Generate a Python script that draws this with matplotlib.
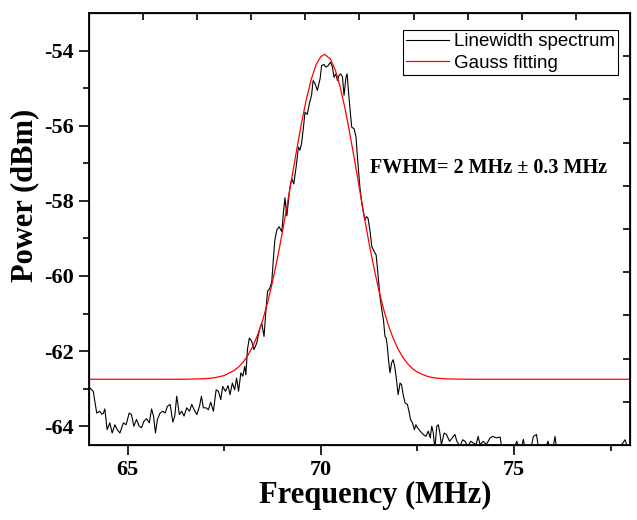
import numpy as np
import matplotlib
matplotlib.use("Agg")
import matplotlib.pyplot as plt

plt.rcParams["axes.unicode_minus"] = False

freq = [64.00, 64.06, 64.11, 64.16, 64.20, 64.28, 64.33, 64.37, 64.41, 64.47,
        64.54, 64.60, 64.67, 64.73, 64.80, 64.89, 64.96, 65.04, 65.10, 65.16,
        65.23, 65.30, 65.36, 65.42, 65.49, 65.56, 65.62, 65.67, 65.72, 65.77,
        65.84, 65.91, 65.97, 66.03, 66.10, 66.17, 66.22, 66.27, 66.34, 66.40,
        66.46, 66.53, 66.60, 66.66, 66.72, 66.79, 66.86, 66.91, 66.96, 67.03,
        67.09, 67.15, 67.22, 67.29, 67.35, 67.41, 67.46, 67.53, 67.60, 67.65,
        67.71, 67.77, 67.82, 67.87, 67.93, 67.98, 68.03, 68.06, 68.10, 68.15,
        68.21, 68.27, 68.34, 68.41, 68.47, 68.53, 68.58, 68.62, 68.68, 68.73,
        68.77, 68.81, 68.86, 68.92, 68.99, 69.03, 69.07, 69.12, 69.20, 69.25,
        69.30, 69.36, 69.42, 69.46, 69.50, 69.55, 69.59, 69.65, 69.70, 69.76,
        69.80, 69.85, 69.91, 69.98, 70.02, 70.08, 70.13, 70.19, 70.25, 70.30,
        70.34, 70.39, 70.43, 70.47, 70.51, 70.56, 70.60, 70.65, 70.68, 70.72,
        70.77, 70.80, 70.86, 70.91, 70.94, 70.98, 71.01, 71.06, 71.10, 71.14,
        71.18, 71.22, 71.27, 71.32, 71.38, 71.43, 71.46, 71.49, 71.53, 71.57,
        71.62, 71.66, 71.69, 71.72, 71.75, 71.79, 71.83, 71.87, 71.91, 71.95,
        72.00, 72.05, 72.09, 72.13, 72.18, 72.24, 72.29, 72.32, 72.37, 72.42,
        72.46, 72.50, 72.57, 72.65, 72.72, 72.78, 72.83, 72.87, 72.91, 72.95,
        73.00, 73.04, 73.08, 73.12, 73.19, 73.25, 73.33, 73.40, 73.47, 73.52,
        73.60, 73.67, 73.73, 73.80, 73.88, 73.95, 74.02, 74.07, 74.12, 74.20,
        74.28, 74.38, 74.45, 74.54, 74.64, 74.68, 74.75, 74.85, 74.95, 75.02,
        75.07, 75.12, 75.18, 75.24, 75.28, 75.35, 75.43, 75.50, 75.58, 75.63,
        75.72, 75.80, 75.88, 75.92, 76.00, 76.06, 76.10, 76.20, 76.30, 76.45,
        76.55, 76.70, 76.85, 76.97, 77.10, 77.25, 77.40, 77.55, 77.70, 77.87,
        77.95, 78.00]
power = [-62.95, -63.02, -63.07, -63.40, -63.65, -63.60, -63.68, -63.66, -63.54, -64.09,
         -63.91, -64.18, -63.96, -64.09, -64.18, -63.91, -63.96, -63.65, -63.69, -64.00,
         -63.82, -64.00, -64.04, -63.87, -63.80, -63.91, -63.54, -63.73, -64.18, -63.82,
         -63.65, -63.60, -63.65, -63.47, -63.42, -63.89, -63.73, -63.20, -63.69, -63.60,
         -63.73, -63.51, -63.60, -63.42, -63.56, -63.69, -63.47, -63.20, -63.51, -63.51,
         -63.56, -63.36, -63.60, -63.03, -63.07, -63.29, -62.94, -63.07, -62.92, -63.16,
         -62.85, -63.03, -62.72, -63.07, -62.58, -62.67, -62.41, -62.63, -61.96, -61.65,
         -61.74, -61.96, -61.79, -61.43, -61.26, -61.61, -60.90, -60.41, -60.33, -60.15,
         -59.57, -59.04, -58.78, -58.69, -58.82, -58.33, -57.92, -58.40, -57.63, -57.41,
         -57.55, -57.10, -56.57, -56.65, -56.48, -56.04, -55.64, -55.70, -55.42, -55.19,
         -54.80, -54.88, -55.06, -54.75, -54.40, -54.37, -54.44, -54.40, -54.31, -54.44,
         -54.71, -54.62, -54.80, -54.66, -54.62, -54.70, -55.19, -54.71, -54.62, -55.15,
         -55.73, -56.04, -56.08, -56.30, -56.74, -57.27, -57.63, -58.07, -58.30, -58.51,
         -58.42, -58.46, -58.78, -59.22, -59.35, -59.44, -59.75, -60.10, -60.55, -60.85,
         -61.17, -61.61, -61.65, -61.87, -62.23, -62.58, -62.32, -62.23, -62.40, -62.70,
         -63.16, -62.85, -62.90, -63.16, -63.38, -63.42, -63.65, -63.82, -63.91, -64.09,
         -63.96, -64.04, -64.13, -64.22, -64.27, -64.13, -64.31, -64.00, -64.18, -64.60,
         -64.00, -63.96, -64.18, -64.50, -64.18, -64.22, -64.40, -64.31, -64.22, -64.40,
         -64.53, -64.36, -64.40, -64.53, -64.40, -64.45, -64.49, -64.27, -64.49, -64.40,
         -64.49, -64.31, -64.27, -64.31, -64.29, -64.55, -64.65, -64.70, -64.62, -64.55,
         -64.40, -64.56, -64.60, -64.35, -64.58, -64.70, -64.62, -64.27, -64.22, -64.56,
         -64.66, -64.60, -64.40, -64.60, -64.62, -64.27, -64.60, -64.70, -64.62, -64.49,
         -64.65, -64.72, -64.62, -64.49, -64.66, -64.70, -64.62, -64.68, -64.62, -64.36,
         -64.60, -64.65]

# gauss fit curve
fit_freq = [64.0, 66.0, 66.5, 67.0, 67.25, 67.5, 67.75, 67.875, 68.0, 68.125,
            68.25, 68.375, 68.5, 68.625, 68.75, 68.875, 69.0, 69.125, 69.25, 69.375,
            69.5, 69.625, 69.75, 69.875, 70.0, 70.1, 70.25, 70.375, 70.5, 70.625,
            70.75, 70.875, 71.0, 71.125, 71.25, 71.375, 71.5, 71.625, 71.75, 71.875,
            72.0, 72.125, 72.25, 72.375, 72.5, 72.625, 72.75, 72.875, 73.0, 73.25,
            73.5, 74.0, 78.0]
fit_power = [-62.75, -62.75, -62.748, -62.735, -62.71, -62.65, -62.52, -62.42, -62.28, -62.09,
             -61.85, -61.54, -61.16, -60.69, -60.15, -59.54, -58.86, -58.13, -57.38, -56.64,
             -55.93, -55.30, -54.77, -54.38, -54.16, -54.10, -54.23, -54.52, -54.97, -55.54,
             -56.21, -56.93, -57.68, -58.43, -59.14, -59.79, -60.38, -60.89, -61.32, -61.67,
             -61.95, -62.17, -62.34, -62.47, -62.56, -62.62, -62.67, -62.70, -62.72, -62.74,
             -62.745, -62.75, -62.75]

serif = "Liberation Serif"
sans = "Liberation Sans"

fig = plt.figure(figsize=(6.37, 5.2), dpi=100)
ax = fig.add_axes([0.1397, 0.1442, 0.8493, 0.8308])

ax.plot(freq, power, color="black", lw=0.8, label="Linewidth spectrum")
ax.plot(fit_freq, fit_power, color="red", lw=0.9, label="Gauss fitting")

ax.set_xlim(64, 78)
ax.set_ylim(-64.5, -53)
ax.set_xticks([65, 70, 75])
ax.set_xticks([67.5, 72.5, 77.5], minor=True)
ax.set_yticks([-64, -62, -60, -58, -56, -54])
ax.set_yticks([-63, -61, -59, -57, -55], minor=True)
ax.tick_params(which="major", direction="out", length=7, width=1.2, pad=4)
ax.tick_params(which="minor", direction="out", length=4, width=1.2)
for lab in ax.get_xticklabels() + ax.get_yticklabels():
    lab.set_fontfamily(serif)
    lab.set_fontweight("bold")
    lab.set_fontsize(16)

for s in ax.spines.values():
    s.set_linewidth(1.3)

# top and right axes with their own ticks
top = ax.twiny()
top.set_xlim(ax.get_xlim())
top.set_xticks(np.linspace(64, 78, 11)[1:-1])
top.set_xticklabels([])
top.tick_params(direction="in", length=5, width=1.2)
right = ax.twinx()
right.set_ylim(ax.get_ylim())
right.set_yticks(np.linspace(-64.5, -53, 11)[1:-1])
right.set_yticklabels([])
right.tick_params(direction="in", length=5, width=1.2)

ax.set_xlabel("Frequency (MHz)", fontfamily=serif, fontweight="bold", fontsize=22, va="center")
ax.xaxis.set_label_coords(0.529, -0.116)
ax.set_ylabel("Power (dBm)", fontfamily=serif, fontweight="bold", fontsize=22, va="center")
ax.yaxis.set_label_coords(-0.118, 0.579)

ax.text(71.27, -57.13, "FWHM= 2 MHz \u00b1 0.3 MHz", fontfamily=serif, fontweight="bold",
        fontsize=14.5, va="center", ha="left")

leg = ax.legend(loc="upper right", bbox_to_anchor=(0.978, 0.96), prop={"family": sans, "size": 13.5},
                frameon=True, fancybox=False, edgecolor="black", framealpha=1,
                handlelength=2.3, handletextpad=0.3, borderpad=0.15, labelspacing=0.25,
                borderaxespad=0)
leg.get_frame().set_linewidth(0.8)

fig.savefig("out.png", dpi=100)
